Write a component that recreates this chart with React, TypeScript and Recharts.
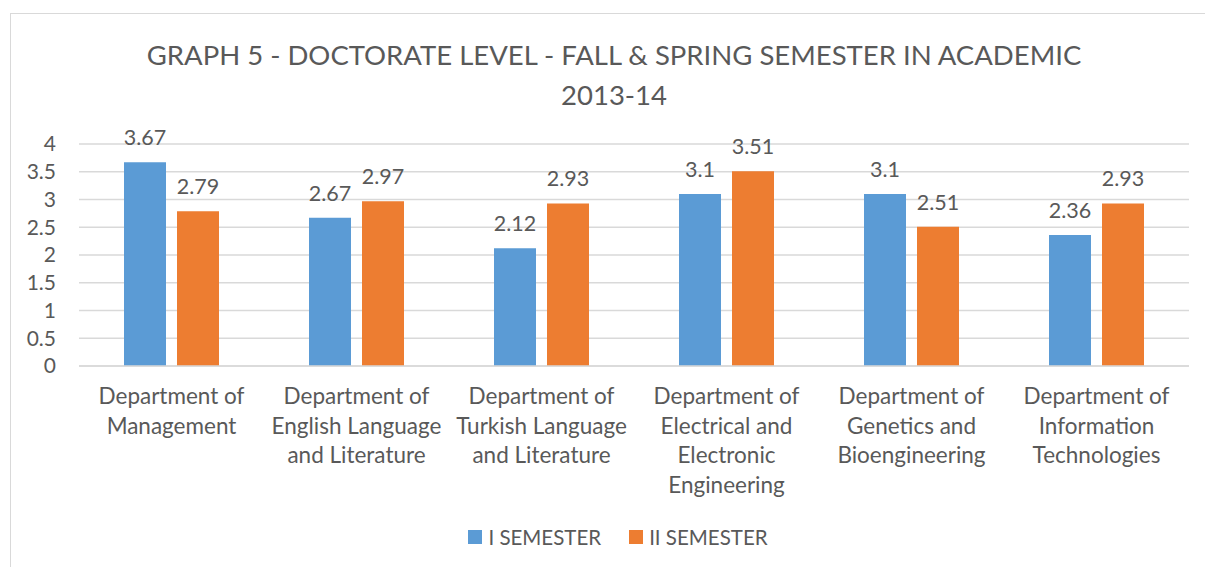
import React from "react";
import { BarChart, Bar, XAxis, YAxis, CartesianGrid, LabelList, Legend } from "recharts";

const categories = [
  "Department of\nManagement",
  "Department of\nEnglish Language\nand Literature",
  "Department of\nTurkish Language\nand Literature",
  "Department of\nElectrical and\nElectronic\nEngineering",
  "Department of\nGenetics and\nBioengineering",
  "Department of\nInformation\nTechnologies",
];
const semester1 = [3.67, 2.67, 2.12, 3.1, 3.1, 2.36];
const semester2 = [2.79, 2.97, 2.93, 3.51, 2.51, 2.93];
const yTicks = [0, 0.5, 1, 1.5, 2, 2.5, 3, 3.5, 4];
const seriesNames = ["I SEMESTER", "II SEMESTER"];
const titleLines = ["GRAPH 5 - DOCTORATE LEVEL - FALL & SPRING SEMESTER IN ACADEMIC", "2013-14"];

const data = categories.map((c, i) => ({ name: c, s1: semester1[i], s2: semester2[i] }));

const FONT = "Lato, 'Open Sans', sans-serif";
const TEXT = "#595959";
const BLUE = "#5B9BD5";
const ORANGE = "#ED7D31";
const GRID = "#D9D9D9";

const XTick = (props: any) => {
  const { x, y, payload } = props;
  const lines = String(payload.value).split("\n");
  return (
    <text x={x} y={y + 38} textAnchor="middle" fill={TEXT} fontSize={22.5} fontFamily={FONT}>
      {lines.map((l, i) => (
        <tspan key={i} x={x} dy={i === 0 ? 0 : 29.5}>
          {l}
        </tspan>
      ))}
    </text>
  );
};

const ValueLabel = (props: any) => {
  const { x, y, width, value } = props;
  return (
    <text x={x + width / 2} y={y - 17} textAnchor="middle" fill={TEXT} fontSize={21.5} fontFamily={FONT}>
      {value}
    </text>
  );
};

const LegendContent = () => (
  <div
    style={{
      display: "flex",
      justifyContent: "center",
      alignItems: "center",
      paddingLeft: 47,
      paddingBottom: 20,
      height: 20,
      fontFamily: FONT,
      fontSize: 20.5,
      color: TEXT,
    }}
  >
    {seriesNames.map((n, i) => (
      <div key={n} style={{ display: "flex", alignItems: "center", marginLeft: i === 0 ? 0 : 28 }}>
        <div style={{ width: 14, height: 14, background: i === 0 ? BLUE : ORANGE, marginRight: 6 }} />
        <span>{n}</span>
      </div>
    ))}
  </div>
);

export default function App() {
  return (
    <div
      style={{
        position: "absolute",
        left: 0,
        top: 0,
        width: 1205,
        height: 567,
        overflow: "hidden",
        background: "#fff",
      }}
    >
      <div
        style={{
          position: "absolute",
          left: 10,
          top: 13,
          width: 1210,
          height: 600,
          border: `1px solid ${GRID}`,
          boxSizing: "border-box",
        }}
      />
      <div
        style={{
          position: "absolute",
          left: 0,
          top: 35,
          width: 1228,
          textAlign: "center",
          fontFamily: FONT,
          fontSize: 27.5,
          lineHeight: "40px",
          color: TEXT,
          zIndex: 2,
        }}
      >
        {titleLines.map((t) => (
          <div key={t}>{t}</div>
        ))}
      </div>
      <div style={{ position: "absolute", left: 0, top: 0 }}>
        <BarChart
          width={1205}
          height={567}
          data={data}
          margin={{ top: 144, right: 16, bottom: 0, left: 0 }}
          barCategoryGap={45}
          barGap={11}
        >
          <CartesianGrid vertical={false} stroke={GRID} strokeWidth={1.5} />
          <XAxis
            dataKey="name"
            tick={<XTick />}
            tickLine={false}
            axisLine={{ stroke: GRID, strokeWidth: 1.5 }}
            interval={0}
            tickSize={0}
            tickMargin={0}
            height={161}
          />
          <YAxis
            domain={[0, 4]}
            ticks={yTicks}
            interval={0}
            axisLine={false}
            tickLine={false}
            tickSize={0}
            tickMargin={23}
            width={79}
            tick={{ fill: TEXT, fontSize: 21, fontFamily: FONT }}
          />
          <Legend
            verticalAlign="bottom"
            content={<LegendContent />}
            wrapperStyle={{ height: 40 }}
          />
          <Bar dataKey="s1" name={seriesNames[0]} fill={BLUE} barSize={42} isAnimationActive={false}>
            <LabelList dataKey="s1" content={<ValueLabel />} />
          </Bar>
          <Bar dataKey="s2" name={seriesNames[1]} fill={ORANGE} barSize={42} isAnimationActive={false}>
            <LabelList dataKey="s2" content={<ValueLabel />} />
          </Bar>
        </BarChart>
      </div>
    </div>
  );
}
